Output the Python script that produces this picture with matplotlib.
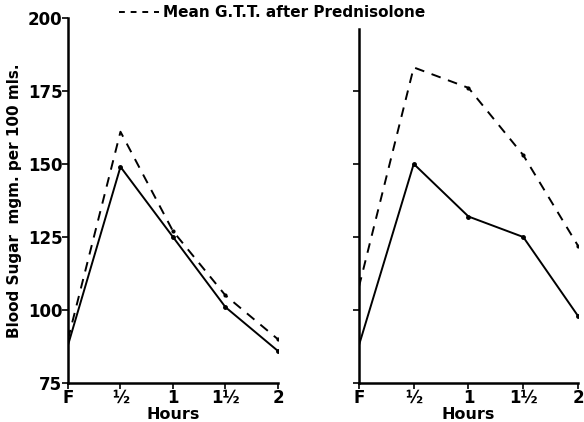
import numpy as np
import matplotlib as mpl
import matplotlib.pyplot as plt
from matplotlib.lines import Line2D

hours = [0, 0.5, 1, 1.5, 2]
hour_labels = ["F", "½", "1", "1½", "2"]
y_ticks = [75, 100, 125, 150, 175, 200]

# left panel
left_before = [88, 149, 125, 101, 86]
left_pred = [90, 161, 127, 105, 90]
# right panel
right_before = [88, 150, 132, 125, 98]
right_pred = [108, 183, 176, 153, 122]

plt.rcParams["font.family"] = ["DejaVu Sans"]
plt.rcParams["font.weight"] = "bold"

fig = plt.figure(figsize=(5.84, 4.22), dpi=100)
ax1 = fig.add_axes([0.1164, 0.092, 0.3596, 0.866])
ax2 = fig.add_axes([0.6147, 0.092, 0.375, 0.866])

for ax, before, pred in [(ax1, left_before, left_pred), (ax2, right_before, right_pred)]:
	ax.plot(hours, before, color="black", lw=1.4, marker="o", ms=2.5, markevery=[1, 2, 3, 4])
	ax.plot(hours, pred, color="black", lw=1.4, ls=(0, (5, 4)), marker="o", ms=2.0, markevery=[2, 3, 4])
	ax.set_xlim(0, 2)
	ax.set_ylim(75, 200)
	ax.set_xticks(hours)
	ax.set_xticklabels(hour_labels, fontsize=12, fontweight="bold")
	for s in ["top", "right"]:
		ax.spines[s].set_visible(False)
	ax.spines["left"].set_linewidth(1.8)
	ax.spines["bottom"].set_linewidth(1.8)
	ax.tick_params(length=4, width=1.2, pad=0)
	ax.set_xlabel("Hours", fontsize=11.5, fontweight="bold", labelpad=0)

ax1.set_yticks(y_ticks)
ax1.set_yticklabels([str(v) for v in y_ticks], fontsize=12, fontweight="bold")
ax1.set_ylabel("Blood Sugar  mgm. per 100 mls.", fontsize=11, fontweight="bold", labelpad=4)
ax2.set_yticks(y_ticks[:-1])
ax2.set_yticklabels([])
ax2.spines["left"].set_bounds(75, 196)

dash = Line2D([], [], color="black", lw=1.4, ls=(0, (3, 3)))
fig.legend(handles=[dash], labels=["Mean G.T.T. after Prednisolone"], loc="upper left",
	bbox_to_anchor=(0.18, 1.02), frameon=False, handlelength=2.6,
	prop={"weight": "bold", "size": 11}, handletextpad=0.3)

fig.savefig("out.png", dpi=100)
